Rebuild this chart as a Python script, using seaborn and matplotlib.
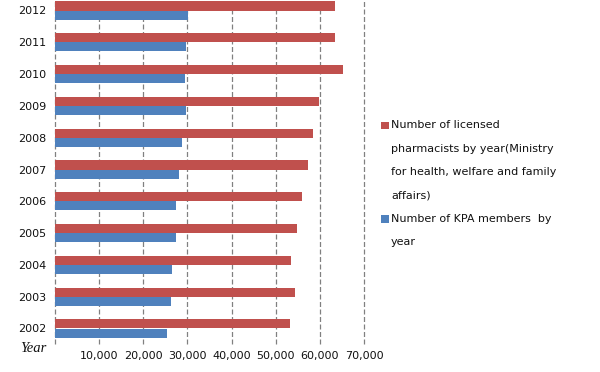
import matplotlib
matplotlib.use("Agg")
import matplotlib.pyplot as plt
import seaborn as sns
import pandas as pd
from matplotlib.patches import Rectangle

years = ["2012", "2011", "2010", "2009", "2008", "2007", "2006", "2005", "2004", "2003", "2002"]
licensed = [63400, 63400, 65200, 59900, 58400, 57300, 55900, 54800, 53400, 54300, 53200]
kpa = [30100, 29600, 29400, 29600, 28800, 28000, 27300, 27300, 26400, 26200, 25300]
series_names = ["Number of licensed pharmacists by year(Ministry for health, welfare and family affairs)",
                "Number of KPA members by year"]
legend_lines = [["Number of licensed", "pharmacists by year(Ministry",
                 "for health, welfare and family", "affairs)"],
                ["Number of KPA members  by", "year"]]
xtick_values = [0, 10000, 20000, 30000, 40000, 50000, 60000, 70000]
xtick_labels = ["", "10,000", "20,000", "30,000", "40,000", "50,000", "60,000", "70,000"]
colors = ["#C0504D", "#4F81BD"]

df = pd.DataFrame({
    "Year": years * 2,
    "Value": licensed + kpa,
    "Series": [series_names[0]] * len(years) + [series_names[1]] * len(years),
})

sns.set_theme(style="white")
plt.rcParams["font.family"] = ["DejaVu Sans"]

W, H = 600, 372
fig = plt.figure(figsize=(6, 3.72), dpi=100)
left, right, top, bottom = 55, 364, -5.4, 344.4
ax = fig.add_axes([left / W, 1 - bottom / H, (right - left) / W, (bottom - top) / H])

sns.barplot(data=df, x="Value", y="Year", hue="Series", order=years,
            hue_order=series_names, palette=colors, orient="h", width=0.57,
            saturation=1, linewidth=0, ax=ax, legend=False)

ax.set_xlim(0, 70000)
ax.set_xticks(xtick_values)
ax.set_xticklabels(xtick_labels, fontsize=8, color="#111111")
ax.tick_params(axis="x", length=0, pad=5)
ax.tick_params(axis="y", length=0, pad=6, labelsize=8, labelcolor="#111111")
ax.set_xlabel("")
ax.set_ylabel("")
for s in ax.spines.values():
    s.set_visible(False)
ax.xaxis.grid(True, linestyle=(0, (4, 2)), color="#808080", linewidth=0.9)
for gl in ax.get_xgridlines():
    gl.set_clip_on(False)
ax.set_axisbelow(True)

fig.text(20 / W, 1 - 349 / H, "Year", family="Liberation Serif", style="italic",
         fontsize=10.5, va="center", ha="left", color="#111111")

# legend
line_y = [[125, 148.5, 172, 195.5], [218.5, 242]]
for i, (lines, ys) in enumerate(zip(legend_lines, line_y)):
    fig.patches.append(Rectangle((381 / W, 1 - (ys[0] + 4) / H), 7.5 / W, 7.5 / H,
                                 transform=fig.transFigure, facecolor=colors[i],
                                 edgecolor="none"))
    for t, y in zip(lines, ys):
        fig.text(391 / W, 1 - y / H, t, fontsize=8, va="center", ha="left", color="#111111")

fig.savefig("out.png", dpi=100)
